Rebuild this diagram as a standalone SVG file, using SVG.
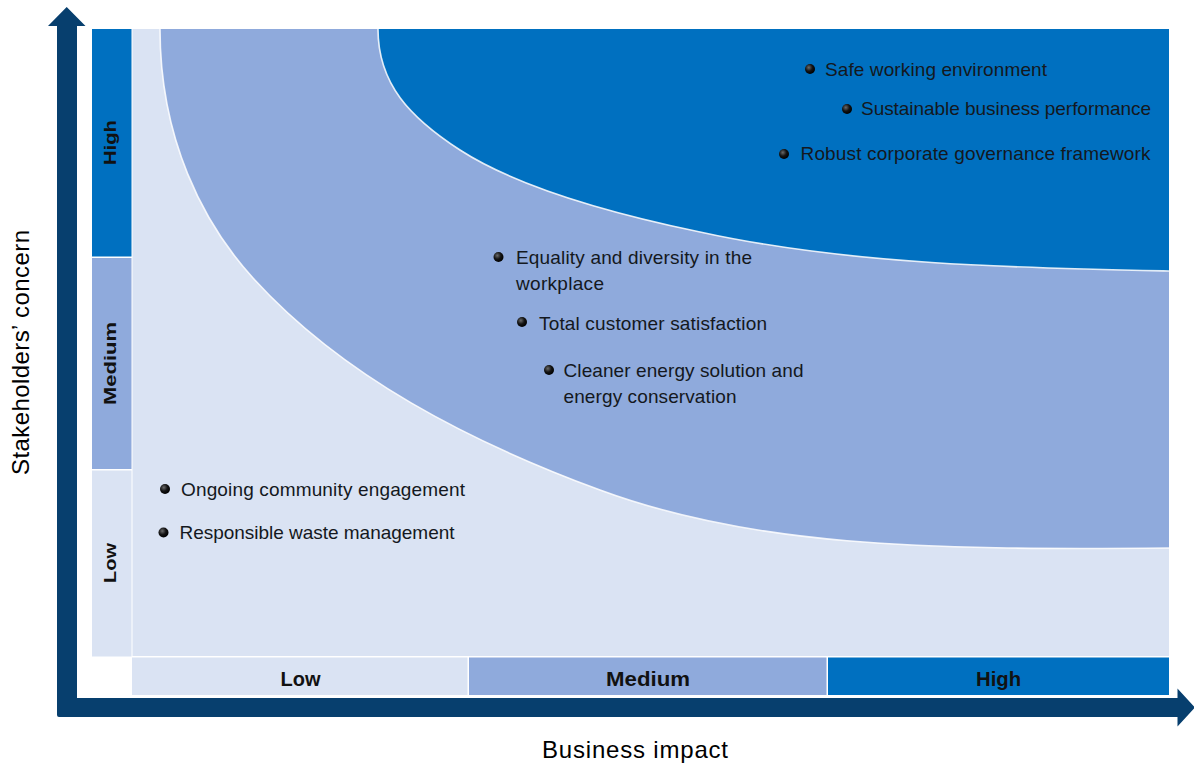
<svg xmlns="http://www.w3.org/2000/svg" width="1194" height="765" viewBox="0 0 1194 765">
  <defs>
    <radialGradient id="ball" cx="38%" cy="35%" r="65%">
      <stop offset="0" stop-color="#6a6a6a"/>
      <stop offset="0.55" stop-color="#141414"/>
      <stop offset="1" stop-color="#000"/>
    </radialGradient>
    <style>
      .item { font-family: "Liberation Sans", Arial, sans-serif; font-size: 19px; fill: #141820; }
      .lvl { font-family: "Liberation Sans", Arial, sans-serif; font-weight: bold; fill: #111; }
      .title { font-family: "Liberation Sans", Arial, sans-serif; font-size: 24px; fill: #000; }
      .edge { fill: none; stroke: #ffffff; stroke-width: 1.6; stroke-opacity: 0.85; }
      .dot { fill: url(#ball); }
    </style>
  </defs>

  <rect width="1194" height="765" fill="#ffffff"/>

  <!-- plot field: low band underneath -->
  <g id="zone-low">
    <rect x="132.5" y="29" width="1036.5" height="627" fill="#DAE3F3"/>
  </g>

  <!-- medium band -->
  <g id="zone-medium">
    <path fill="#8FAADC" d="M160,29 C160,139 203,223 253,278 C343,377 470,442 600,490 C750,545.5 919,550.5 1169,548 L1169,29 Z"/>
    <path class="edge" d="M160,29 C160,139 203,223 253,278 C343,377 470,442 600,490 C750,545.5 919,550.5 1169,548"/>
  </g>

  <!-- high band -->
  <g id="zone-high">
    <path fill="#0070C0" d="M378,29 C378,84 410,117.5 460,150 C505,179 580,207 700,232 C850,265 1019,268 1169,271 L1169,29 Z"/>
    <path class="edge" d="M378,29 C378,84 410,117.5 460,150 C505,179 580,207 700,232 C850,265 1019,268 1169,271"/>
  </g>

  <!-- stakeholder concern scale -->
  <g id="scale-y">
    <rect x="92" y="29" width="39.5" height="227.5" fill="#0070C0"/>
    <rect x="92" y="258" width="39.5" height="211" fill="#8FAADC"/>
    <rect x="92" y="470.5" width="39.5" height="186" fill="#DAE3F3"/>
    <text class="lvl" font-size="17" text-anchor="middle" textLength="45" lengthAdjust="spacingAndGlyphs" transform="translate(110,142.5) rotate(-90)" y="6">High</text>
    <text class="lvl" font-size="17" text-anchor="middle" textLength="83" lengthAdjust="spacingAndGlyphs" transform="translate(110,363.5) rotate(-90)" y="6">Medium</text>
    <text class="lvl" font-size="17" text-anchor="middle" textLength="40" lengthAdjust="spacingAndGlyphs" transform="translate(110,563) rotate(-90)" y="6">Low</text>
  </g>

  <!-- business impact scale -->
  <g id="scale-x">
    <rect x="132" y="657.5" width="335.5" height="37.5" fill="#DAE3F3"/>
    <rect x="469" y="657.5" width="357.5" height="37.5" fill="#8FAADC"/>
    <rect x="828" y="657.5" width="341" height="37.5" fill="#0070C0"/>
    <text class="lvl" font-size="21" text-anchor="middle" x="300.5" y="686" textLength="40" lengthAdjust="spacingAndGlyphs">Low</text>
    <text class="lvl" font-size="21" text-anchor="middle" x="648" y="686" textLength="84" lengthAdjust="spacingAndGlyphs">Medium</text>
    <text class="lvl" font-size="21" text-anchor="middle" x="998.5" y="686" textLength="45" lengthAdjust="spacingAndGlyphs">High</text>
  </g>

  <!-- material topics -->
  <g id="topic-safe-working">
    <circle class="dot" cx="810" cy="69" r="5"/>
    <text class="item" x="825" y="75.5" textLength="222">Safe working environment</text>
  </g>
  <g id="topic-sustainable-performance">
    <circle class="dot" cx="847" cy="109" r="5"/>
    <text class="item" x="861" y="115" textLength="290">Sustainable business performance</text>
  </g>
  <g id="topic-governance">
    <circle class="dot" cx="784" cy="154" r="5"/>
    <text class="item" x="800.5" y="160" textLength="350">Robust corporate governance framework</text>
  </g>
  <g id="topic-equality">
    <circle class="dot" cx="498.5" cy="257" r="5"/>
    <text class="item" x="516" y="263.5" textLength="236">Equality and diversity in the</text>
    <text class="item" x="516" y="289.5" textLength="88">workplace</text>
  </g>
  <g id="topic-customer">
    <circle class="dot" cx="522" cy="322" r="5"/>
    <text class="item" x="539" y="330" textLength="228">Total customer satisfaction</text>
  </g>
  <g id="topic-energy">
    <circle class="dot" cx="549" cy="370" r="5"/>
    <text class="item" x="563.5" y="376.5" textLength="240">Cleaner energy solution and</text>
    <text class="item" x="563.5" y="402.5" textLength="173">energy conservation</text>
  </g>
  <g id="topic-community">
    <circle class="dot" cx="165" cy="489" r="5"/>
    <text class="item" x="181" y="496" textLength="284">Ongoing community engagement</text>
  </g>
  <g id="topic-waste">
    <circle class="dot" cx="163.5" cy="532.5" r="5"/>
    <text class="item" x="179.5" y="539" textLength="275">Responsible waste management</text>
  </g>

  <!-- axes -->
  <g id="axes">
    <path fill="#073F6E" d="M48,26 L66.7,7 L85.5,26 L77,26 L77,698 L1177.5,698 L1177.5,688.5 L1195,707.5 L1177.5,726.5 L1177.5,717 L59,717 Q57,717 57,715 L57,26 Z"/>
  </g>

  <g id="axis-titles">
    <text class="title" text-anchor="middle" x="635" y="758" textLength="186">Business impact</text>
    <text class="title" text-anchor="middle" transform="translate(29,352.5) rotate(-90)" textLength="245">Stakeholders’ concern</text>
  </g>
</svg>
